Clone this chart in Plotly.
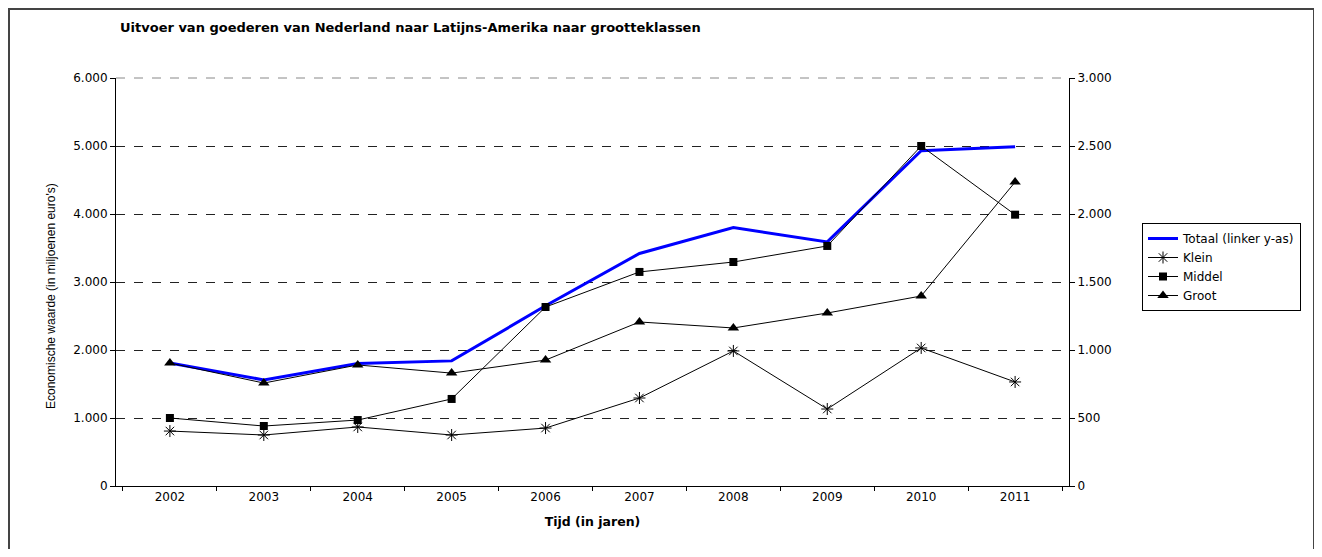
import plotly.graph_objects as go

years = ["2002", "2003", "2004", "2005", "2006", "2007", "2008", "2009", "2010", "2011"]
totaal = [1810, 1560, 1800, 1840, 2650, 3420, 3800, 3590, 4930, 4990]
klein = [404, 375, 434, 375, 426, 647, 993, 566, 1015, 765]
middel = [500, 441, 485, 640, 1316, 1574, 1647, 1765, 2500, 1995]
groot = [904, 757, 890, 830, 926, 1206, 1162, 1272, 1397, 2235]

title_text = "Uitvoer van goederen van Nederland naar Latijns-Amerika naar grootteklassen"
y_title = "Economische waarde (in miljoenen euro's)"
x_title = "Tijd (in jaren)"

FONT = "DejaVu Sans, Arial, sans-serif"
FONT_Y = "Liberation Sans, Arial, sans-serif"

fig = go.Figure()
fig.add_trace(go.Scatter(x=years, y=totaal, name="Totaal (linker y-as)", mode="lines",
                         line=dict(color="#0000FF", width=3), yaxis="y"))
fig.add_trace(go.Scatter(x=years, y=klein, name="Klein", mode="lines+markers",
                         line=dict(color="black", width=1),
                         marker=dict(symbol="asterisk-open", size=10, color="black",
                                     line=dict(color="black", width=1)), yaxis="y2"))
fig.add_trace(go.Scatter(x=years, y=middel, name="Middel", mode="lines+markers",
                         line=dict(color="black", width=1),
                         marker=dict(symbol="square", size=8, color="black"), yaxis="y2"))
fig.add_trace(go.Scatter(x=years, y=groot, name="Groot", mode="lines+markers",
                         line=dict(color="black", width=1),
                         marker=dict(symbol="triangle-up", size=10, color="black"), yaxis="y2"))

OFF = 8  # page body margin
W, H = 1322 - 2 * OFF, 557 - 2 * OFF
PL, PR, PT, PB = 116, 1069, 78, 486  # plot area in page pixels
L = PL - OFF
T = PT - OFF
R = W - (PR - OFF)
B = H - (PB - OFF)
pw = W - L - R
ph = H - T - B

def px(x):
    return (x - OFF - L) / pw

def py(y):
    return (H - B - (y - OFF)) / ph

fig.update_layout(
    width=W, height=H,
    margin=dict(l=L, r=R, t=T, b=B, pad=0),
    paper_bgcolor="white", plot_bgcolor="white",
    separators=",.",
    font=dict(family=FONT, size=11, color="black"),
    showlegend=True,
    legend=dict(x=px(1142), y=py(223), xanchor="left", yanchor="top",
                bordercolor="black", borderwidth=1, bgcolor="white",
                font=dict(family=FONT, size=12, color="black"),
                tracegroupgap=0, itemwidth=30),
    xaxis=dict(type="category", tickson="boundaries", ticks="outside", ticklen=4,
               tickcolor="black", showline=True, linecolor="black", linewidth=1,
               showgrid=False, tickfont=dict(size=12),
               title=dict(text="<b>" + x_title + "</b>", font=dict(size=12.5), standoff=13)),
    yaxis=dict(range=[0, 6000], dtick=1000, tickformat=",d", ticks="outside", ticklen=5,
               tickcolor="black", showline=True, linecolor="black", linewidth=1,
               showgrid=True, gridcolor="#222222", gridwidth=1, griddash="dash",
               zeroline=False, tickfont=dict(size=12)),
    yaxis2=dict(range=[0, 3000], dtick=500, tickformat=",d", overlaying="y", side="right",
                ticks="outside", ticklen=5, tickcolor="black", showline=True,
                linecolor="black", linewidth=1, showgrid=False, zeroline=False,
                tickfont=dict(size=12)),
    shapes=[
        dict(type="rect", xref="paper", yref="paper",
             x0=px(9), x1=px(1314), y0=py(550), y1=py(9),
             line=dict(color="#444444", width=2), fillcolor="rgba(0,0,0,0)",
             layer="below"),
        dict(type="line", xref="paper", yref="paper", x0=0, x1=1, y0=1, y1=1,
             line=dict(color="#888888", width=1, dash="dash"), layer="below"),
    ],
    annotations=[
        dict(text="<b>" + title_text + "</b>", xref="paper", yref="paper",
             x=px(118), y=py(27), xanchor="left", yanchor="middle",
             showarrow=False, font=dict(family=FONT, size=13, color="black")),
        dict(text=y_title, xref="paper", yref="paper", textangle=-90,
             x=px(51), y=py(296), xanchor="center", yanchor="middle",
             showarrow=False, font=dict(family=FONT_Y, size=12, color="black")),
    ],
)

fig.write_html("out.html")
